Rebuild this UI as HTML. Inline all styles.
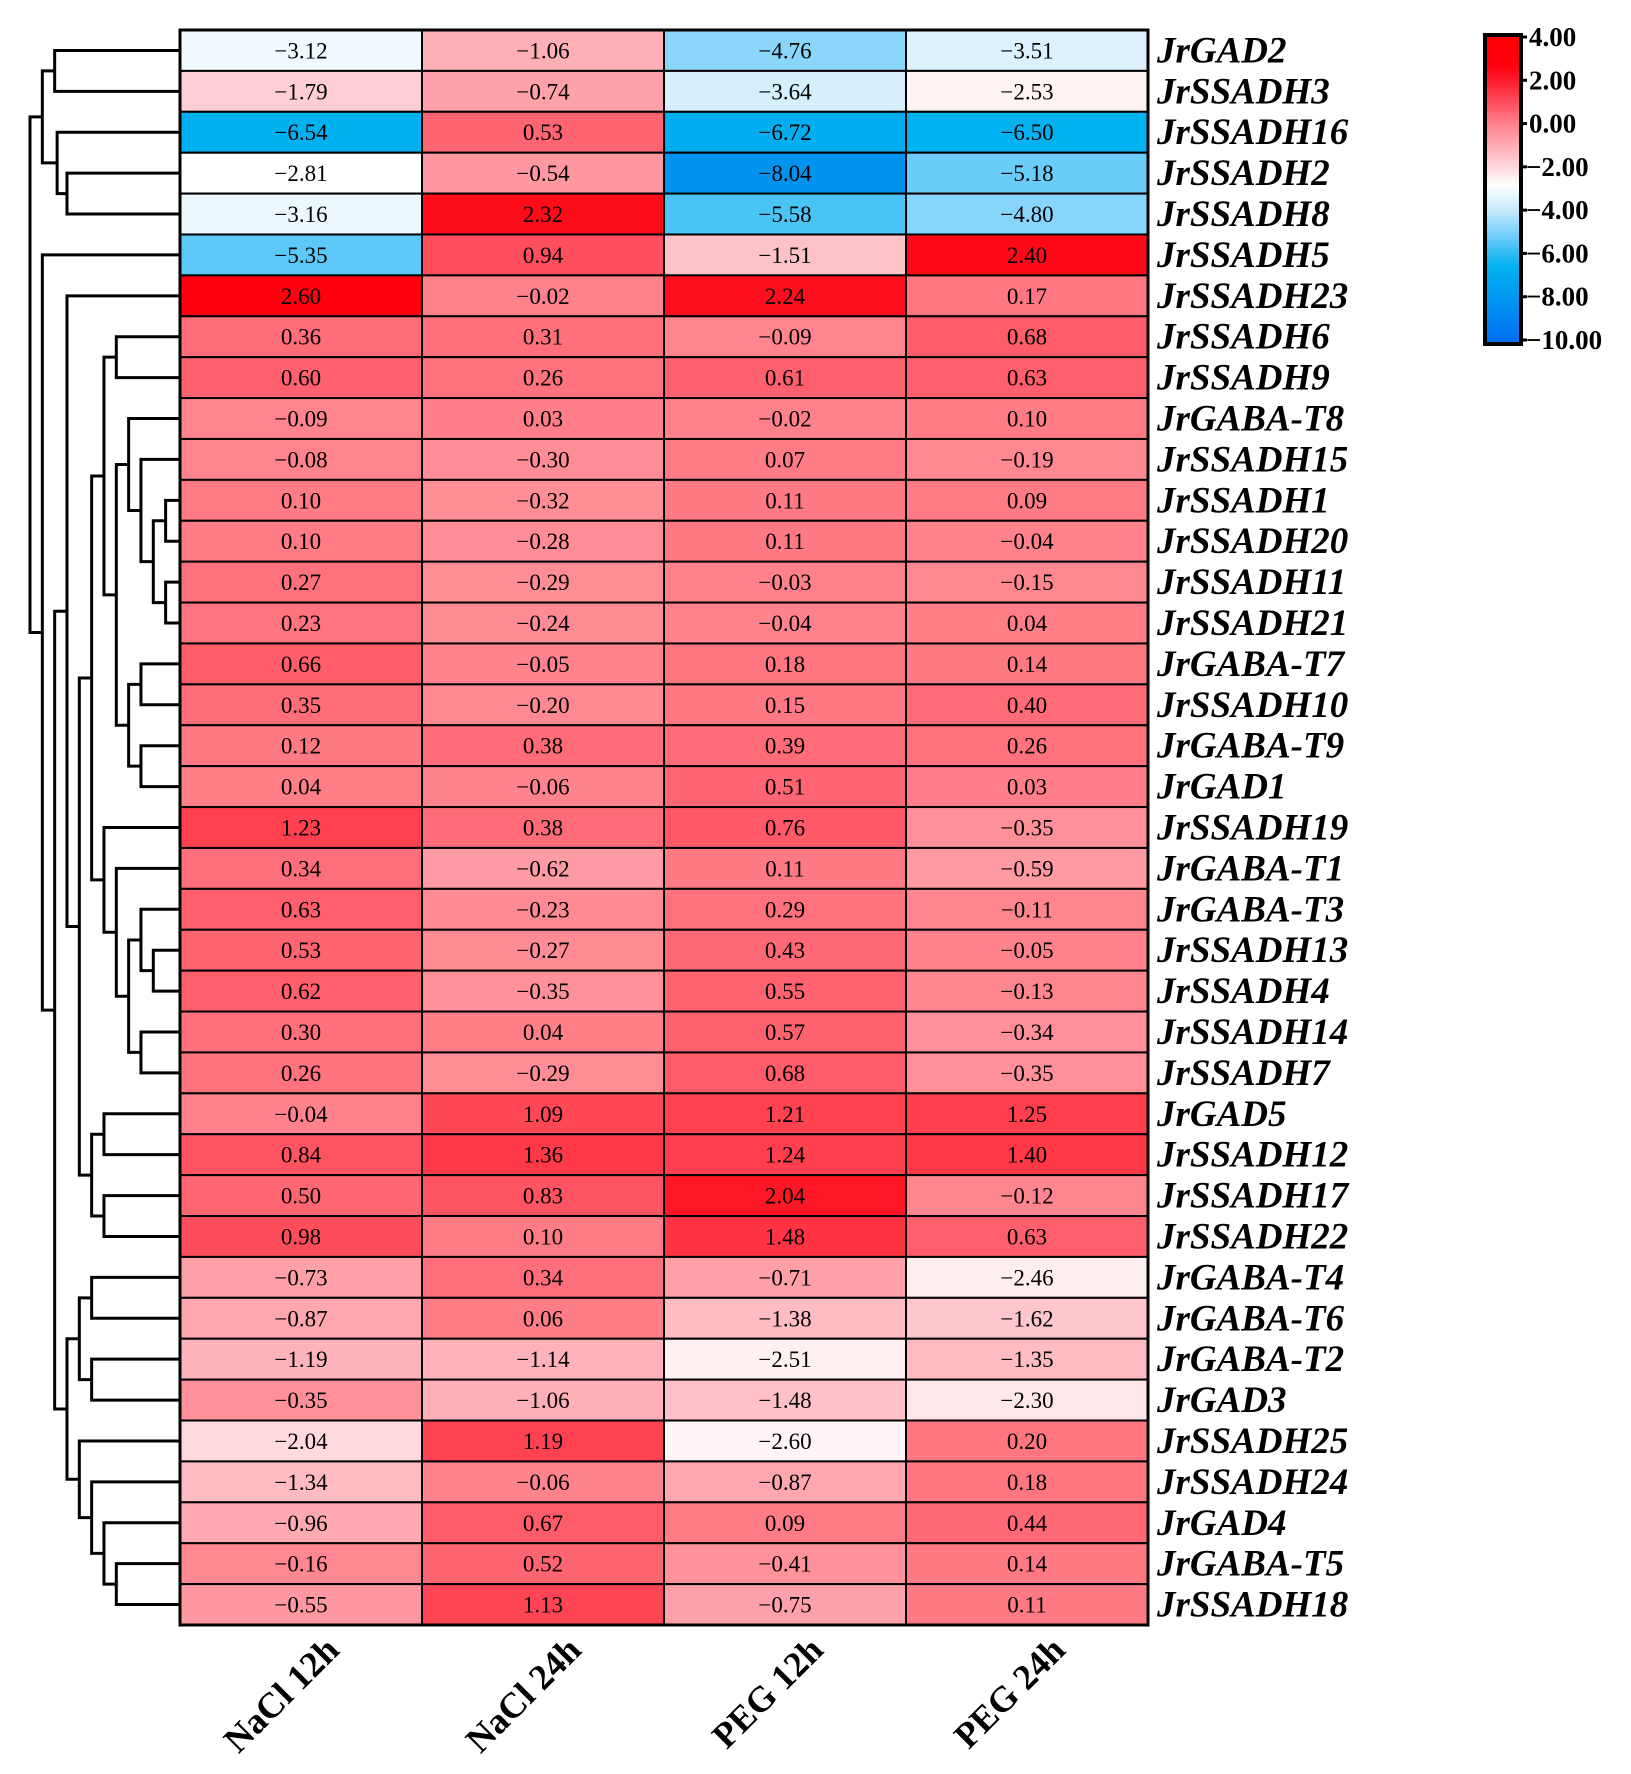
<!DOCTYPE html>
<html><head><meta charset="utf-8"><style>
html,body{margin:0;padding:0;background:#fff;}
svg{display:block;}
text{font-family:"Liberation Serif",serif;}
</style></head><body>
<svg id="chart" width="1631" height="1774" viewBox="0 0 1631 1774" xmlns="http://www.w3.org/2000/svg">
<defs><linearGradient id="cbgrad" x1="0" y1="1" x2="0" y2="0"></linearGradient></defs>
<g id="dendro"></g>
<g id="cells"></g>
<g id="rowlabels"></g>
<g id="collabels"></g>
<g id="colorbar"></g>
</svg>
<script>
const genes = ["JrGAD2","JrSSADH3","JrSSADH16","JrSSADH2","JrSSADH8","JrSSADH5","JrSSADH23","JrSSADH6","JrSSADH9","JrGABA-T8","JrSSADH15","JrSSADH1","JrSSADH20","JrSSADH11","JrSSADH21","JrGABA-T7","JrSSADH10","JrGABA-T9","JrGAD1","JrSSADH19","JrGABA-T1","JrGABA-T3","JrSSADH13","JrSSADH4","JrSSADH14","JrSSADH7","JrGAD5","JrSSADH12","JrSSADH17","JrSSADH22","JrGABA-T4","JrGABA-T6","JrGABA-T2","JrGAD3","JrSSADH25","JrSSADH24","JrGAD4","JrGABA-T5","JrSSADH18"];
const conditions = ["NaCl 12h","NaCl 24h","PEG 12h","PEG 24h"];
const nacl12 = [-3.12,-1.79,-6.54,-2.81,-3.16,-5.35,2.60,0.36,0.60,-0.09,-0.08,0.10,0.10,0.27,0.23,0.66,0.35,0.12,0.04,1.23,0.34,0.63,0.53,0.62,0.30,0.26,-0.04,0.84,0.50,0.98,-0.73,-0.87,-1.19,-0.35,-2.04,-1.34,-0.96,-0.16,-0.55];
const nacl24 = [-1.06,-0.74,0.53,-0.54,2.32,0.94,-0.02,0.31,0.26,0.03,-0.30,-0.32,-0.28,-0.29,-0.24,-0.05,-0.20,0.38,-0.06,0.38,-0.62,-0.23,-0.27,-0.35,0.04,-0.29,1.09,1.36,0.83,0.10,0.34,0.06,-1.14,-1.06,1.19,-0.06,0.67,0.52,1.13];
const peg12 = [-4.76,-3.64,-6.72,-8.04,-5.58,-1.51,2.24,-0.09,0.61,-0.02,0.07,0.11,0.11,-0.03,-0.04,0.18,0.15,0.39,0.51,0.76,0.11,0.29,0.43,0.55,0.57,0.68,1.21,1.24,2.04,1.48,-0.71,-1.38,-2.51,-1.48,-2.60,-0.87,0.09,-0.41,-0.75];
const peg24 = [-3.51,-2.53,-6.50,-5.18,-4.80,2.40,0.17,0.68,0.63,0.10,-0.19,0.09,-0.04,-0.15,0.04,0.14,0.40,0.26,0.03,-0.35,-0.59,-0.11,-0.05,-0.13,-0.34,-0.35,1.25,1.40,-0.12,0.63,-2.46,-1.62,-1.35,-2.30,0.20,0.18,0.44,0.14,0.11];
const legendTicks = [4,2,0,-2,-4,-6,-8,-10];
const legendMin = -10, legendMax = 4;
// dendrogram topology: [mergeLevel, left, right]; leaves are row indices
const tree = [0,
  [1,[2,0,1],[2.2,2,[3,3,4]]],
  [1,5,[2,
    [3,6,[4,
      [5,[6,[7,7,8],[7,[8,9,[9,10,[10,[11,11,12],[11,13,14]]]],[8,[9,15,16],[9,17,18]]]],
         [6,19,[7,20,[8,[9,21,[10,22,23]],[9,24,25]]]]],
      [5,[6,26,27],[6,28,29]]]],
    [3,[4,[5,30,31],[5,32,33]],[4,34,[5,35,[6,36,[7,37,38]]]]]]]];

const series = [nacl12,nacl24,peg12,peg24];
const NS="http://www.w3.org/2000/svg";
const X0=180, X1=1148, Y0=30, Y1=1625;
const colW=(X1-X0)/conditions.length, rowH=(Y1-Y0)/genes.length;
const xCol=i=>X0+i*colW, yRow=i=>Y0+i*rowH;
const stops=[[4,[255,0,0]],[2.6,[255,0,15]],[2,[255,25,40]],[1,[255,75,90]],[0,[255,128,138]],[-1,[255,172,180]],[-2,[255,215,220]],[-2.8,[255,255,255]],[-4,[195,232,252]],[-5,[120,208,250]],[-6,[40,185,242]],[-6.5,[0,178,240]],[-10,[0,110,240]]];
function color(v){
  if(v>=stops[0][0]) return rgb(stops[0][1]);
  for(let i=0;i<stops.length-1;i++){
    const [a,ca]=stops[i],[b,cb]=stops[i+1];
    if(v<=a&&v>=b){const t=(a-v)/(a-b);return rgb(ca.map((c,k)=>c+(cb[k]-c)*t));}
  }
  return rgb(stops[stops.length-1][1]);
}
function rgb(c){return "rgb("+c.map(Math.round).join(",")+")";}
function mk(tag,attrs,parent){const e=document.createElementNS(NS,tag);for(const k in attrs)e.setAttribute(k,attrs[k]);parent.appendChild(e);return e;}
const fmt=v=>(v<0?"\u2212":"")+Math.abs(v).toFixed(2);

const cells=document.getElementById("cells");
series.forEach((s,c)=>{
  s.forEach((v,r)=>{
    const rect=mk("rect",{x:xCol(c),y:yRow(r),width:colW,height:rowH,fill:color(v),stroke:"#000","stroke-width":2},cells);
    
    
    const t=mk("text",{x:xCol(c)+colW/2,y:yRow(r)+rowH/2+8,"text-anchor":"middle","font-size":23,fill:"#000"},cells);
    
    
    t.textContent=fmt(v);
  });
});
const border=mk("rect",{x:X0,y:Y0,width:X1-X0,height:Y1-Y0,fill:"none",stroke:"#000","stroke-width":3},cells);



const rl=document.getElementById("rowlabels");
genes.forEach((g,r)=>{
  const t=mk("text",{x:1157,y:yRow(r)+rowH/2+12,"font-size":37,"font-weight":"bold","font-style":"italic",fill:"#000"},rl);
  
  
  t.textContent=g;
});
const cl=document.getElementById("collabels");
conditions.forEach((c,i)=>{
  const ax=xCol(i)+colW/2+40, ay=1652;
  const t=mk("text",{x:ax,y:ay,"text-anchor":"end","font-size":36,"font-weight":"bold",transform:"rotate(-45 "+ax+" "+ay+")",fill:"#000"},cl);
  
  
  t.textContent=c;
});

// dendrogram
const dg=document.getElementById("dendro");
const lvlX=l=>30+12.33*l;
function draw(n){
  if(typeof n==="number") return {x:X0,y:yRow(n)+rowH/2};
  const a=draw(n[1]), b=draw(n[2]), x=lvlX(n[0]);
  const p=mk("path",{d:`M${a.x} ${a.y}H${x}V${b.y}H${b.x}`,fill:"none",stroke:"#000","stroke-width":3},dg);
  
  
  return {x:x,y:(a.y+b.y)/2};
}
draw(tree);

// colorbar
const cb=document.getElementById("colorbar");
const grad=document.getElementById("cbgrad");
stops.slice().reverse().forEach(s=>{
  mk("stop",{offset:((s[0]-legendMin)/(legendMax-legendMin)*100)+"%","stop-color":rgb(s[1])},grad);
});
const CY0=37, CY1=340, CX=1485, CW=36;
const yLeg=v=>CY1-(v-legendMin)/(legendMax-legendMin)*(CY1-CY0);
const bar=mk("rect",{x:CX,y:CY0-2,width:CW,height:CY1-CY0+6,fill:"url(#cbgrad)",stroke:"#000","stroke-width":4},cb);


legendTicks.forEach(v=>{
  const y=yLeg(v);
  const tk=mk("line",{x1:CX+CW,x2:CX+CW+6,y1:y,y2:y,stroke:"#000","stroke-width":3},cb);
  
  
  const t=mk("text",{x:CX+CW+(v<0?5:8),y:y+9,"font-size":27,"font-weight":"bold",fill:"#000"},cb);
  
  
  t.textContent=fmt(v);
});
</script>
</body></html>
